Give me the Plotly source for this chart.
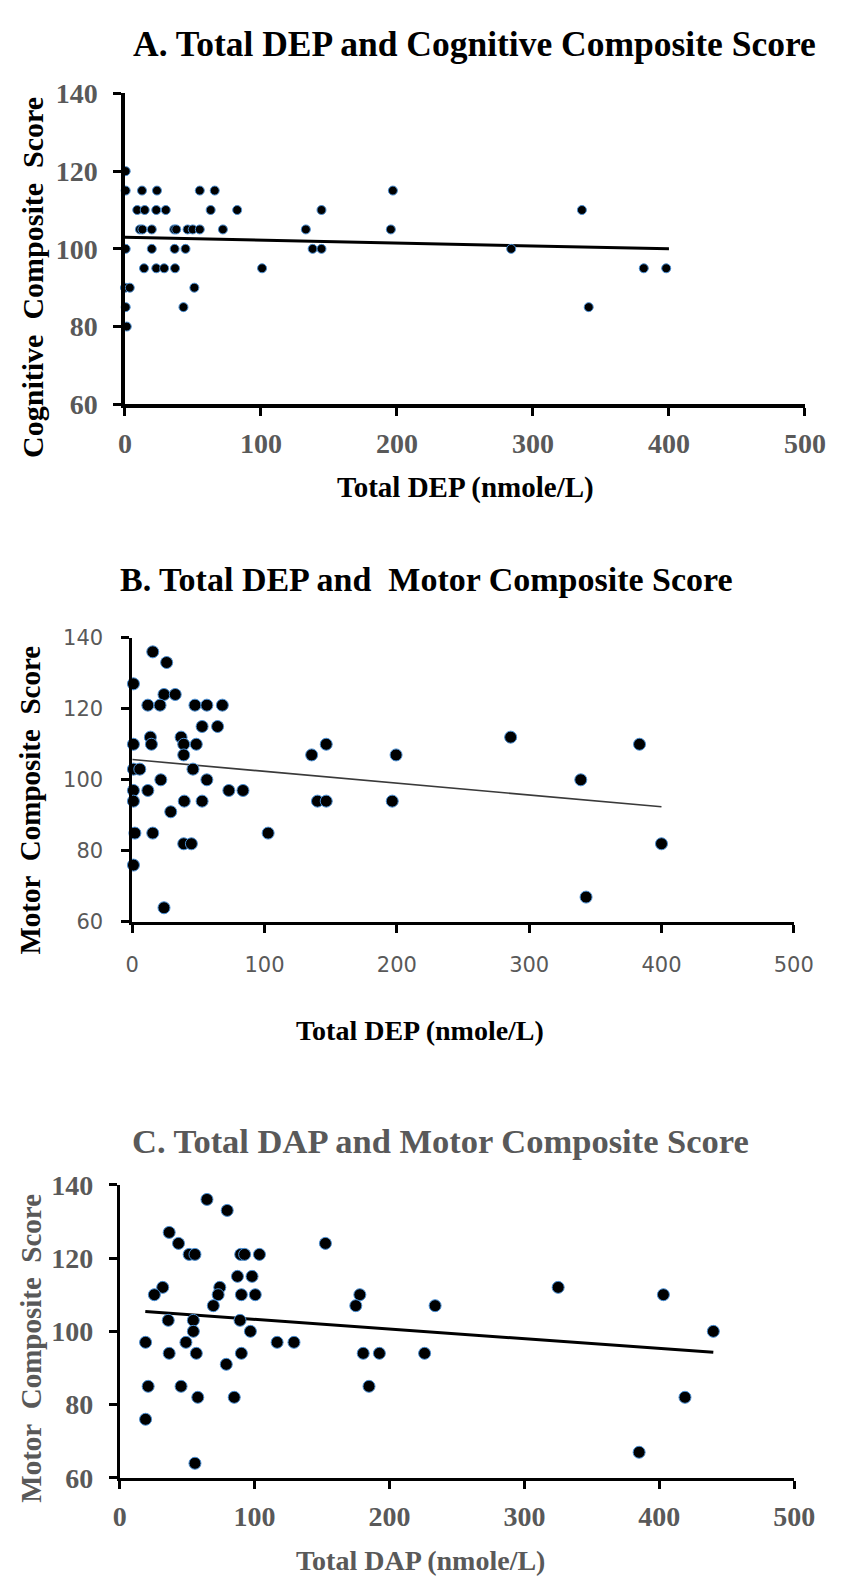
import plotly.graph_objects as go

W, H = 853, 1591

# ---------------- data ----------------
# Panel A: Total DEP vs Cognitive composite score
dep_a = [0.5,
         0.5, 12.5, 23.5, 55, 66, 197,
         9, 14.5, 23, 30, 63, 82.5, 144.5, 336,
         11, 12.8, 19.7, 36.2, 37.7, 46, 49.8, 55, 72, 133, 195.5,
         0.5, 19.7, 36.5, 44.5, 138, 144.5, 284,
         14, 23, 28.8, 36.8, 100.8, 381.5, 398,
         0, 3.5, 51,
         0.5, 43, 341,
         1.3]
cog_a = [120,
         115, 115, 115, 115, 115, 115,
         110, 110, 110, 110, 110, 110, 110, 110,
         105, 105, 105, 105, 105, 105, 105, 105, 105, 105, 105,
         100, 100, 100, 100, 100, 100, 100,
         95, 95, 95, 95, 95, 95, 95,
         90, 90, 90,
         85, 85, 85,
         80]
fit_a_x = [0, 400]
fit_a_y = [103.0, 100.0]

# Panel B: Total DEP vs Motor composite score
dep_b = [15.5, 26, 0.9, 24, 32.5, 11.8, 21, 47.4, 56.4, 68.1, 52.8, 64.5,
         13.7, 36.9, 286, 0.9, 14.5, 38.9, 48.4, 146.6, 383.4, 38.9, 135.6,
         199.4, 0.9, 5.7, 45.9, 21.6, 56.4, 339, 0.9, 11.8, 73, 83.7, 0.9,
         39.3, 52.8, 140, 146.6, 196.5, 29.1, 2, 15.5, 102.7, 38.9, 44.7,
         400, 0.9, 24, 343]
motor_b = [136, 133, 127, 124, 124, 121, 121, 121, 121, 121, 115, 115,
           112, 112, 112, 110, 110, 110, 110, 110, 110, 107, 107,
           107, 103, 103, 103, 100, 100, 100, 97, 97, 97, 97, 94,
           94, 94, 94, 94, 94, 91, 85, 85, 85, 82, 82,
           82, 76, 64, 67]
fit_b_x = [0, 400]
fit_b_y = [105.7, 92.4]

# Panel C: Total DAP vs Motor composite score
dap_c = [64.7, 79.7, 36.7, 43.6, 152.5, 51.5, 55.8, 89.7, 92.6, 103.6,
         87.3, 98.1, 31.9, 74.2, 325, 25.7, 73, 90.2, 100.5, 178, 403,
         69.4, 175, 233.8, 36, 54.6, 89.2, 54.6, 96.9, 440, 19.2, 49.1,
         116.7, 129.2, 36.7, 56.8, 90.2, 180.5, 192.5, 226, 79, 21.1, 45.5,
         184.8, 57.9, 84.9, 419, 19.2, 55.8, 385]
motor_c = [136, 133, 127, 124, 124, 121, 121, 121, 121, 121,
           115, 115, 112, 112, 112, 110, 110, 110, 110, 110, 110,
           107, 107, 107, 103, 103, 103, 100, 100, 100, 97, 97,
           97, 97, 94, 94, 94, 94, 94, 94, 91, 85, 85,
           85, 82, 82, 82, 76, 64, 67]
fit_c_x = [19, 440]
fit_c_y = [105.4, 94.3]

x_ticks = [0, 100, 200, 300, 400, 500]
y_ticks = [60, 80, 100, 120, 140]

# ---------------- helpers ----------------
def px(xp):
    return xp / W

def py(yp):
    return 1 - yp / H

SERIF = "Liberation Serif"
GRAY = "#595959"

fig = go.Figure()

def add_points(x, y, size, xa, ya):
    fig.add_trace(go.Scatter(
        x=x, y=y, mode="markers", xaxis=xa, yaxis=ya, cliponaxis=False,
        marker=dict(size=size, color="black",
                    line=dict(color="#4a8fd4", width=1)),
        showlegend=False, hoverinfo="x+y"))

def add_fit(x, y, color, width, xa, ya):
    fig.add_trace(go.Scatter(
        x=x, y=y, mode="lines", xaxis=xa, yaxis=ya, cliponaxis=False,
        line=dict(color=color, width=width),
        showlegend=False, hoverinfo="skip"))

add_fit(fit_a_x, fit_a_y, "black", 3, "x", "y")
add_points(dep_a, cog_a, 9, "x", "y")
add_fit(fit_b_x, fit_b_y, "#3a3a3a", 1.6, "x2", "y2")
add_points(dep_b, motor_b, 12, "x2", "y2")
add_fit(fit_c_x, fit_c_y, "black", 3, "x3", "y3")
add_points(dap_c, motor_c, 12, "x3", "y3")

def xaxis(dom, anchor, font, lw, standoff):
    return dict(domain=dom, anchor=anchor, range=[0, 500], tickvals=x_ticks,
                showline=True, linecolor="black", linewidth=lw,
                ticks="outside", ticklen=8, tickwidth=2.5, tickcolor="black",
                tickfont=font, ticklabelstandoff=standoff,
                showgrid=False, zeroline=False, fixedrange=True)

def yaxis(dom, anchor, font, lw, standoff):
    return dict(domain=dom, anchor=anchor, range=[60, 140], tickvals=y_ticks,
                showline=True, linecolor="black", linewidth=lw,
                ticks="outside", ticklen=8, tickwidth=2.5, tickcolor="black",
                tickfont=font, ticklabelstandoff=standoff,
                showgrid=False, zeroline=False, fixedrange=True)

serif_tick = dict(family=SERIF, size=28, color=GRAY, weight="bold")
sans_tick = dict(family="DejaVu Sans", size=21, color=GRAY)

fig.update_layout(
    width=W, height=H,
    margin=dict(l=0, r=0, t=0, b=0),
    paper_bgcolor="white", plot_bgcolor="white",
    xaxis=xaxis([px(122), px(825)], "y", serif_tick, 3.5, 3),
    yaxis=yaxis([py(397), py(80)], "x", serif_tick, 3.5, 10),
    xaxis2=xaxis([px(129.5), px(813.5)], "y2", sans_tick, 2.7, 14),
    yaxis2=yaxis([py(925), py(635)], "x2", sans_tick, 2.7, 14),
    xaxis3=xaxis([px(116.5), px(814)], "y3", serif_tick, 2.7, 4),
    yaxis3=yaxis([py(1492), py(1193)], "x3", serif_tick, 2.7, 10),
)

def note(text, x, y, size, color="black", angle=0):
    fig.add_annotation(text=text, x=px(x), y=py(y), xref="paper", yref="paper",
                       xanchor="center", yanchor="middle", showarrow=False,
                       textangle=angle,
                       font=dict(family=SERIF, size=size, color=color, weight="bold"))

NB = "\u00a0"
# panel titles
note("A. Total DEP and Cognitive Composite Score", 483, 30, 35.5)
note("B. Total DEP and" + NB + " Motor Composite Score", 434, 576, 34)
note("C. Total DAP and Motor Composite Score", 448, 1148, 34.5, GRAY)
# x-axis titles
note("Total DEP (nmole/L)", 474, 482, 29)
note("Total DEP (nmole/L)", 427, 1036, 28)
note("Total DAP (nmole/L)", 428, 1576, 28, GRAY)
# y-axis titles
note("Cognitive" + NB + " Composite" + NB + " Score", 27, 268, 30, "black", -90)
note("Motor" + NB + " Composite" + NB + " Score", 24, 801, 29, "black", -90)
note("Motor" + NB + " Composite" + NB + " Score", 24, 1360, 29, GRAY, -90)

fig.write_html("out.html",
               config={"displayModeBar": False},
               post_script="document.body.style.margin='0';document.body.style.overflow='hidden';")
